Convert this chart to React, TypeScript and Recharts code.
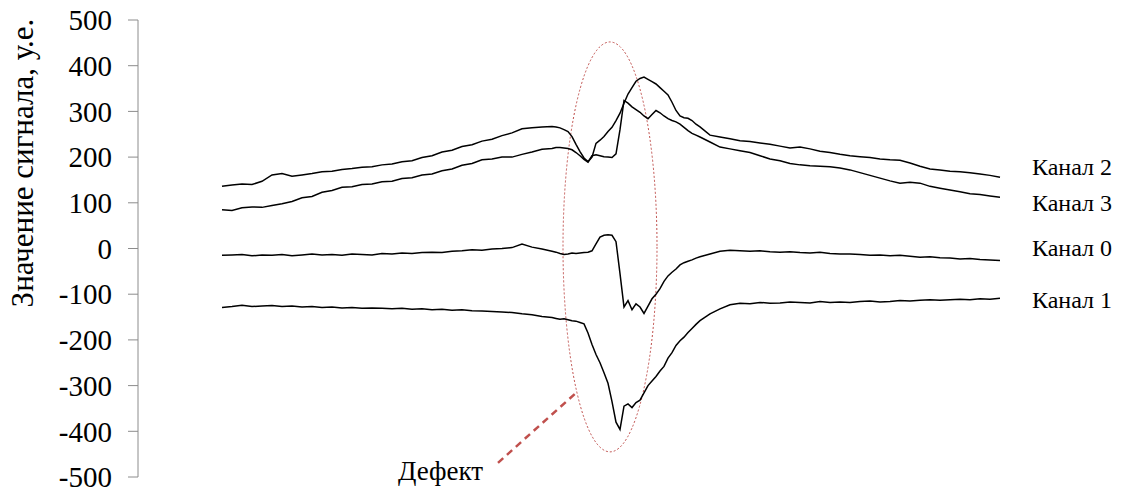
import React from 'react';
import {
  LineChart, Line, XAxis, YAxis, ReferenceArea, ReferenceLine, ReferenceDot,
} from 'recharts';

// sample positions along the scan
const samples = [
  0, 10, 20, 30, 40, 50, 60, 70, 80, 90, 100, 110, 120, 130, 140, 150, 160, 170,
  180, 190, 200, 210, 220, 230, 240, 250, 260, 270, 280, 290, 300, 310, 320, 330,
  334, 338, 342, 346, 350, 354, 358, 362, 366, 370, 374, 378, 382, 386, 390, 394,
  398, 402, 406, 410, 414, 418, 422, 426, 430, 434, 438, 442, 446, 450, 454, 458,
  462, 466, 470, 474, 478,
  488, 498, 508, 518, 528, 538, 548, 558, 568, 578, 588, 598, 608, 618, 628, 638,
  648, 658, 668, 678, 688, 698, 708, 718, 728, 738, 748, 758, 768, 778,
];

const channel2 = [
  136, 139, 141, 140, 147, 161, 164, 158, 161, 164, 168, 169, 173, 175, 178, 179, 183, 185,
  190, 192, 199, 203, 211, 215, 223, 227, 235, 239, 247, 253, 262, 264, 266, 267,
  266, 264, 260, 256, 245, 228, 212, 198, 190, 200, 230, 237, 245, 256, 265, 280,
  296, 318, 338, 352, 366, 372, 375, 370, 365, 360, 352, 344, 336, 320, 302, 290,
  286, 285, 280, 272, 266,
  248, 244, 240, 236, 234, 231, 228, 224, 220, 222, 218, 213, 210, 206, 203, 201,
  199, 196, 194, 193, 187, 180, 174, 172, 169, 168, 166, 163, 160, 156,
];

const channel3 = [
  85, 83, 89, 91, 90, 94, 98, 103, 111, 114, 123, 127, 134, 135, 140, 141, 146, 147,
  153, 155, 161, 163, 170, 174, 182, 186, 194, 196, 200, 200, 206, 211, 217, 219,
  221, 221, 220, 219, 216, 210, 203, 195, 189, 203, 205, 203, 201, 200, 199, 207,
  260, 324, 318, 310, 304, 298, 290, 284, 293, 302, 297, 290, 284, 280, 277, 272,
  265, 258, 252, 248, 244,
  233, 222, 218, 214, 210, 203, 196, 192, 186, 183, 181, 180, 179, 176, 172, 166,
  160, 154, 148, 143, 145, 143, 136, 132, 128, 124, 120, 118, 115, 112,
];

const channel0 = [
  -15, -14, -13, -16, -14, -15, -13, -16, -14, -12, -14, -13, -15, -12, -13, -14, -11, -12,
  -10, -11, -9, -8, -9, -6, -5, -3, -4, -1, 0, 2, 10, 3, -1, -6,
  -8, -11, -13, -12, -10, -11, -10, -9, -8, -5, 10, 25, 29, 30, 29, 15,
  -55, -128, -114, -134, -121, -128, -142, -126, -110, -100, -88, -72, -60, -52, -45, -36,
  -31, -28, -25, -21, -18,
  -12, -6, -4, -5, -6, -5, -7, -8, -7, -9, -10, -8, -11, -12, -12, -13,
  -15, -14, -16, -15, -17, -19, -18, -20, -21, -23, -22, -24, -25, -26,
];

const channel1 = [
  -129, -127, -124, -127, -126, -125, -127, -126, -128, -127, -129, -128, -130, -129, -131, -130, -131, -132,
  -131, -133, -132, -134, -133, -135, -134, -136, -137, -138, -139, -140, -143, -145, -149, -151,
  -153, -155, -154, -156, -158, -159, -162, -165, -185, -210, -232, -250, -272, -295, -335, -380,
  -396, -345, -340, -348, -337, -332, -316, -300, -290, -280, -268, -258, -240, -228, -212, -202,
  -194, -184, -175, -166, -158,
  -143, -132, -123, -120, -121, -118, -120, -119, -117, -118, -119, -116, -118, -117, -118, -116,
  -115, -117, -116, -114, -115, -113, -112, -113, -112, -111, -112, -110, -111, -109,
];

const yTicks = [-500, -400, -300, -200, -100, 0, 100, 200, 300, 400, 500];

const data = samples.map((s, i) => ({
  s,
  ch0: channel0[i],
  ch1: channel1[i],
  ch2: channel2[i],
  ch3: channel3[i],
}));

const serif = 'Liberation Serif';
const red = '#C0504D';

// force the Times-like face on every svg text inside the chart
const fontCss = `
#root svg text, #root svg tspan, .recharts-wrapper text, .recharts-wrapper tspan {
  font-family: "Liberation Serif", "Times New Roman", serif !important;
}
`;

// name label drawn to the right of a line's last point
const endLabel = (name: string, dy: number) => (props: any) => {
  if (props.index !== samples.length - 1) return null;
  return (
    <text x={props.x + 32} y={props.y + dy} fontFamily={serif} fontSize={24} fill="#000">
      {name}
    </text>
  );
};

const YLabel = () => (
  <text
    x={33}
    y={163}
    transform="rotate(-90, 33, 163)"
    textAnchor="middle"
    fontFamily={serif}
    fontSize={31}
    fill="#000"
  >
    Значение сигнала, у.е.
  </text>
);

export default function App() {
  return (
    <div style={{ position: 'fixed', left: 0, top: 0, background: '#fff' }}>
      <style>{fontCss}</style>
      <LineChart width={1121} height={491} data={data} margin={{ top: 20, right: 121, bottom: 14, left: 0 }}>
        <XAxis dataKey="s" type="number" domain={[-84, 778]} hide />
        <YAxis
          domain={[-500, 500]}
          ticks={yTicks}
          interval={0}
          width={138}
          axisLine={{ stroke: '#8c8c8c' }}
          tickLine={{ stroke: '#8c8c8c' }}
          tickSize={10}
          tickMargin={16}
          tick={{ fill: '#000', fontSize: 29, fontFamily: serif }}
          label={<YLabel />}
        />

        {/* defect zone */}
        <ReferenceArea
          x1={341}
          x2={435}
          y1={-445}
          y2={452}
          ifOverflow="visible"
          shape={(p: any) => (
            <ellipse
              cx={p.x + p.width / 2}
              cy={p.y + p.height / 2}
              rx={Math.abs(p.width) / 2}
              ry={Math.abs(p.height) / 2}
              fill="none"
              stroke={red}
              strokeWidth={1}
              strokeDasharray="2 2"
            />
          )}
        />
        <ReferenceLine
          segment={[{ x: 276, y: -469 }, { x: 355, y: -314 }]}
          stroke={red}
          strokeWidth={2.5}
          strokeDasharray="7 5"
          ifOverflow="visible"
        />
        <ReferenceDot
          x={276}
          y={-469}
          r={0}
          ifOverflow="visible"
          shape={(p: any) => (
            <text x={p.cx - 15} y={p.cy + 17} textAnchor="end" fontFamily={serif} fontSize={27} fill="#000">
              Дефект
            </text>
          )}
        />

        <Line dataKey="ch2" type="linear" stroke="#000" strokeWidth={1.5} dot={false} isAnimationActive={false} label={endLabel('Канал 2', -2)} />
        <Line dataKey="ch3" type="linear" stroke="#000" strokeWidth={1.5} dot={false} isAnimationActive={false} label={endLabel('Канал 3', 14)} />
        <Line dataKey="ch0" type="linear" stroke="#000" strokeWidth={1.5} dot={false} isAnimationActive={false} label={endLabel('Канал 0', -4)} />
        <Line dataKey="ch1" type="linear" stroke="#000" strokeWidth={1.5} dot={false} isAnimationActive={false} label={endLabel('Канал 1', 10)} />
      </LineChart>
    </div>
  );
}
